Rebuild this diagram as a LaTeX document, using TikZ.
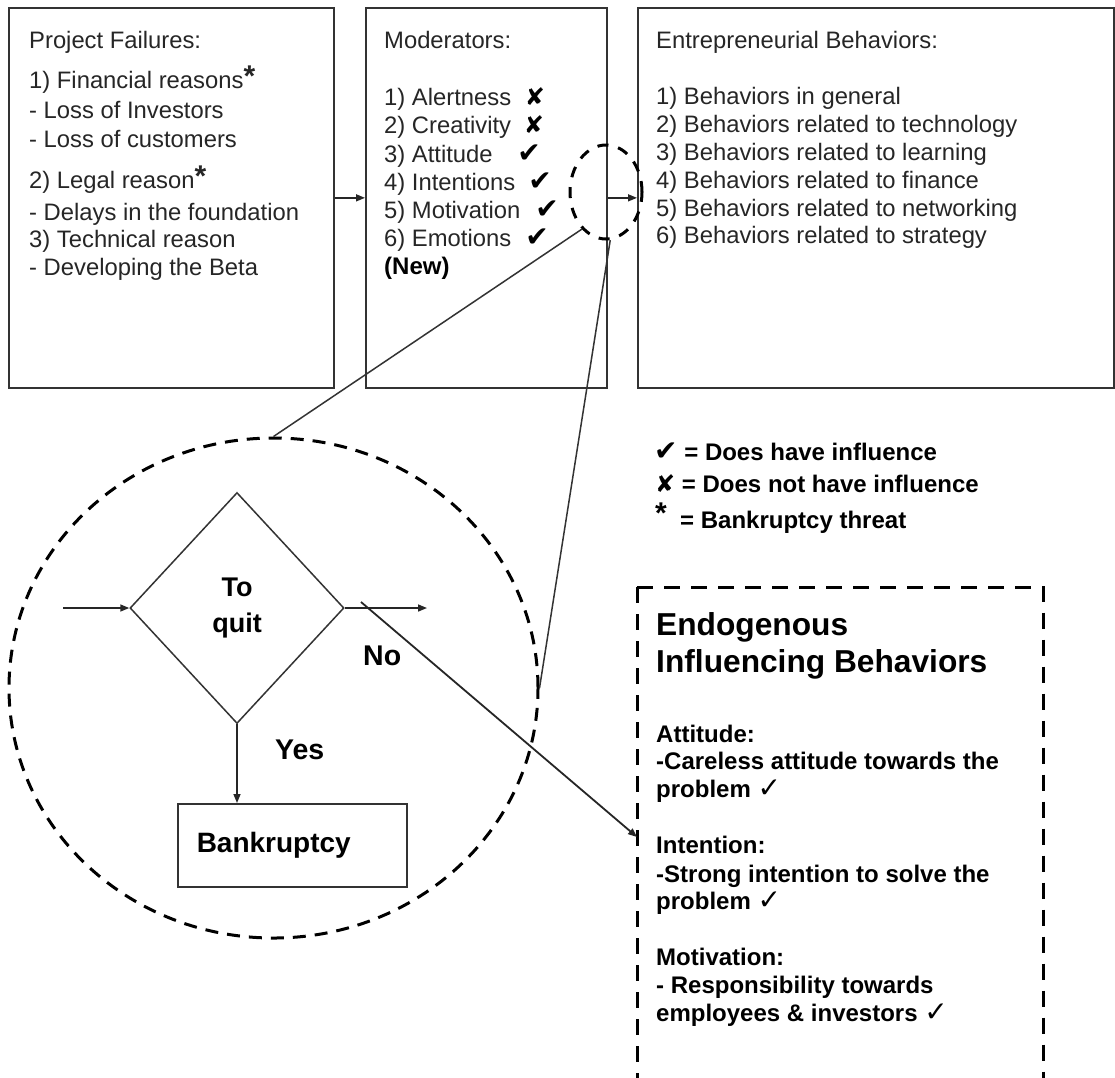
\documentclass[tikz,border=0pt]{standalone}
\usepackage{fontspec}
\setmainfont{Liberation Sans}
\newfontfamily\dingfont{DejaVu Sans}
\usetikzlibrary{shapes.geometric,arrows.meta,calc}

% type sizes (1pt = 1 output pixel)
\newcommand{\regfont}{\fontsize{23.8pt}{28pt}\selectfont}
\newcommand{\boldfont}{\fontsize{24pt}{28pt}\selectfont\bfseries}
\newcommand{\titlefont}{\fontsize{31.7pt}{37pt}\selectfont\bfseries}
\newcommand{\quitfont}{\fontsize{27pt}{36pt}\selectfont\bfseries}
\newcommand{\bankfont}{\fontsize{28pt}{32pt}\selectfont\bfseries}
\newcommand{\labfont}{\fontsize{28.5pt}{32pt}\selectfont\bfseries}
% symbols
\newcommand{\ck}{{\dingfont\mdseries\fontsize{28pt}{28pt}\selectfont ✓}}
\newcommand{\ckh}{{\dingfont\mdseries\fontsize{28pt}{28pt}\selectfont ✔}}
\newcommand{\xk}{{\dingfont\mdseries\fontsize{24pt}{24pt}\selectfont ✘}}
\newcommand{\bankstar}{\raisebox{1.5pt}{\bfseries\fontsize{30pt}{30pt}\selectfont*}}

\begin{document}
\begin{tikzpicture}[x=1pt,y=-1pt,
  box/.style={draw=black!80, line width=1.7pt, inner sep=0pt},
  txt/.style={anchor=base west, inner sep=0pt, text=black!85, font=\regfont},
  btxt/.style={anchor=base west, inner sep=0pt, text=black, font=\boldfont},
  sym/.style={anchor=base, inner sep=0pt, text=black},
  conn/.style={draw=black!85, line width=1.5pt, -{Triangle[length=9pt,width=7pt]}},
  wire/.style={draw=black!80, line width=1.5pt},
  dashring/.style={draw=black, line width=3pt, dash pattern=on 13pt off 9pt},
]
\useasboundingbox (0,0) rectangle (1115,1077);
\fill[white] (0,0) rectangle (1115,1077);

% ---- the three framework boxes
\node[box, anchor=north west, minimum width=325pt, minimum height=380pt] (fail) at (8,7) {};
\node[box, anchor=north west, minimum width=241pt, minimum height=380pt] (mod) at (365,7) {};
\node[box, anchor=north west, minimum width=476pt, minimum height=380pt] (beh) at (637,7) {};

\draw[conn] (fail.east) -- (mod.west);
\draw[conn] (mod.east) -- (beh.west);

% project failures
\node[txt] (pf1) at (29,48) {Project Failures:};
\node[txt] (pf2) at (29,88) {1) Financial reasons\bankstar};
\node[txt] (pf3) at (29,118) {- Loss of Investors};
\node[txt] (pf4) at (29,147) {- Loss of customers};
\node[txt] (pf5) at (29,188) {2) Legal reason\bankstar};
\node[txt] (pf6) at (29,220) {- Delays in the foundation};
\node[txt] (pf7) at (29,247) {3) Technical reason};
\node[txt] (pf8) at (29,275) {- Developing the Beta};

% moderators
\node[txt] (md0) at (384,48) {Moderators:};
\foreach \y/\t [count=\i] in {105/{1) Alertness}, 133/{2) Creativity}, 162/{3) Attitude},
    190/{4) Intentions}, 218/{5) Motivation}, 246/{6) Emotions}}
  \node[txt] (md\i) at (384,\y) {\t};
\node[btxt] (mdnew) at (384,274) {(New)};
\foreach \x/\y/\m [count=\i] in {535/105/\xk, 534/133/\xk, 529/162/\ckh,
    540/190/\ckh, 547/218/\ckh, 537/246/\ckh}
  \node[sym] (mk\i) at (\x,\y) {\m};

% entrepreneurial behaviors
\node[txt] (eb0) at (656,48) {Entrepreneurial Behaviors:};
\foreach \y/\t [count=\i] in {104/{1) Behaviors in general},
    132/{2) Behaviors related to technology}, 160/{3) Behaviors related to learning},
    188/{4) Behaviors related to finance}, 216/{5) Behaviors related to networking},
    243/{6) Behaviors related to strategy}}
  \node[txt] (eb\i) at (656,\y) {\t};

% ---- magnifier: small lens and the enlarged view
\node[ellipse, dashring, dash pattern=on 11pt off 10pt, minimum width=72pt, minimum height=94pt, inner sep=0pt] (lens) at (606,192) {};
\node[ellipse, dashring, minimum width=529pt, minimum height=500pt, inner sep=0pt] (big) at (273.5,688) {};
\draw[wire] (lens.237) -- (big.north);
\draw[wire] (lens.-85) -- (big.east);

% decision inside the enlarged view
\node[draw=black!80, line width=1.5pt, diamond, minimum width=214pt, minimum height=231pt,
      inner sep=0pt, align=center, font=\quitfont] (q) at (237,608) {To\\quit};
\node[draw=black!80, line width=1.5pt, anchor=north west, minimum width=229pt, minimum height=83pt,
      text width=191pt, inner xsep=19pt, inner ysep=0pt, align=left, font=\bankfont] (bk) at (177,803) {Bankruptcy};
\coordinate (inStart) at (63,608);
\coordinate (outEnd) at (427,608);
\draw[conn] (inStart) -- (q.west);
\draw[conn] (q.east) -- (outEnd);
\draw[conn] (q.south) -- (q.south |- bk.north);
\node[anchor=base west, inner sep=0pt, font=\labfont] (no) at (363,665) {No};
\node[anchor=base west, inner sep=0pt, font=\labfont] (yes) at (275,759) {Yes};

% ---- legend
\node[btxt] (lg1) at (654,460) {\ckh{} = Does have influence};
\node[btxt] (lg2) at (655,492) {\xk{} = Does not have influence};
\node[anchor=base west, inner sep=0pt, font=\bfseries\fontsize{30pt}{30pt}\selectfont] (lgstar) at (655,523) {*};
\node[btxt] (lg3) at (680,528) {= Bankruptcy threat};

% ---- endogenous behaviors (open dashed frame)
\node[anchor=north west, minimum width=406pt, minimum height=495pt, inner sep=0pt] (endo) at (637,587) {};
\draw[black, line width=3pt, dash pattern=on 16pt off 11pt] (endo.north west) -- (endo.south west);
\draw[black, line width=3pt, dash pattern=on 16pt off 11pt] (endo.north west) -- (endo.north east) -- (endo.south east);
\coordinate (noStart) at (361,602);
\coordinate (endoIn) at (637,837);
\draw[conn, line width=1.8pt] (noStart) -- (endoIn);

\node[anchor=base west, inner sep=0pt, font=\titlefont] (en1) at (656,635) {Endogenous};
\node[anchor=base west, inner sep=0pt, font=\titlefont] (en2) at (656,672) {Influencing Behaviors};
\foreach \y/\t [count=\i] in {742/{Attitude:}, 769/{-Careless attitude towards the}, 797/{problem \ck},
    853/{Intention:}, 882/{-Strong intention to solve the}, 909/{problem \ck},
    965/{Motivation:}, 993/{- Responsibility towards}, 1021/{employees \& investors \ck}}
  \node[btxt] (ei\i) at (656,\y) {\t};
\end{tikzpicture}
\end{document}
